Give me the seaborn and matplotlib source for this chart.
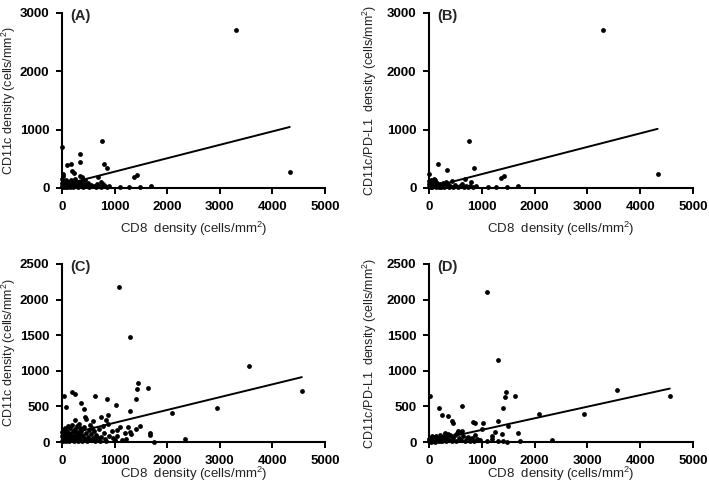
import numpy as np
import pandas as pd
import matplotlib
matplotlib.use("Agg")
import matplotlib.pyplot as plt
import seaborn as sns

# ---------------- data ----------------
# Panel A: CD8 density vs CD11c density
A_x = [0, 3300, 4330, 760, 344, 344, 800, 856, 100, 175, 225, 188, 1362, 1425, 338, 375, 20,
       894, 1112, 1270, 1475, 1690, 675, 737,
       0, 0, 0, 10, 20, 30, 40, 50, 60, 70, 80, 90, 100, 110, 120, 130, 140, 150, 160, 170, 180,
       200, 210, 220, 240, 260, 270, 290, 300, 320, 350, 370, 390, 410, 440, 470, 500, 520, 560,
       600, 640, 660, 700, 740, 780, 820, 860, 15, 250, 400]
A_y = [700, 2710, 280, 800, 590, 446, 418, 345, 390, 418, 265, 288, 192, 226, 203, 186, 200,
       40, 17, 17, 17, 28, 186, 107,
       30, 90, 150, 60, 10, 120, 40, 80, 20, 140, 50, 100, 10, 70, 30, 110, 60, 20, 90, 40, 130,
       10, 70, 50, 100, 30, 60, 110, 20, 70, 40, 100, 20, 60, 130, 30, 80, 15, 50,
       30, 10, 60, 40, 20, 70, 30, 10, 240, 160, 150]

# Panel B: CD8 density vs CD11c/PD-L1 density
B_x = [0, 3300, 4330, 756, 175, 350, 856, 1362, 1425, 100, 690, 788, 894, 1112, 1270, 1475, 1690,
       0, 0, 0, 10, 20, 30, 40, 50, 60, 70, 80, 90, 110, 120, 130, 150, 160, 180, 200, 220, 240,
       260, 280, 300, 320, 340, 360, 380, 400, 430, 460, 500, 540, 580, 620, 660, 700, 740, 780, 830]
B_y = [232, 2710, 240, 802, 418, 300, 345, 175, 198, 158, 150, 96, 30, 17, 17, 17, 28,
       20, 60, 120, 40, 90, 10, 130, 50, 20, 80, 110, 30, 60, 140, 10, 40, 90, 20, 60, 10, 40,
       80, 20, 50, 100, 30, 70, 10, 40, 120, 20, 50, 10, 30, 60, 15, 40, 10, 30, 10]

# Panel C: CD8 density vs CD11c density (second cohort)
C_x = [1090, 1302, 3560, 4560, 2950, 2090, 2330, 1448, 1429, 1403, 1631, 1296, 1485, 1669, 1681,
       1757, 1018, 847, 619, 183, 240, 32, 76, 367, 411, 436, 449, 247, 740, 872, 841, 879, 784,
       594, 531, 569, 1100, 1258, 1403, 1290, 1321, 1226, 973, 1005, 815, 657, 1037, 341, 310, 373,
       0, 0, 0, 10, 20, 25, 35, 40, 50, 55, 65, 70, 80, 90, 95, 105, 115, 120, 130, 140, 150, 160,
       170, 180, 190, 200, 210, 220, 230, 250, 260, 270, 280, 290, 300, 320, 330, 350, 360, 380,
       400, 420, 440, 460, 480, 500, 520, 540, 560, 580, 600, 620, 650, 680, 700, 720, 750, 790,
       830, 900, 950, 1050, 1150, 1200]
C_y = [2180, 1470, 1066, 718, 480, 405, 40, 830, 744, 610, 754, 430, 225, 125, 100,
       5, 518, 600, 640, 706, 680, 650, 496, 545, 470, 346, 317, 312, 355, 374, 312, 254, 226,
       288, 240, 202, 216, 206, 178, 144, 110, 48, 58, 24, 48, 72, 163, 192, 144, 96,
       20, 80, 140, 50, 110, 10, 170, 70, 30, 130, 200, 60, 10, 100, 160, 40, 220, 80, 20, 130, 60, 190,
       30, 100, 240, 50, 150, 10, 90, 180, 40, 120, 230, 70, 20, 110, 250, 50, 160, 20,
       90, 210, 40, 130, 10, 70, 170, 30, 110, 60, 150, 20, 100, 40, 180, 10, 70, 130,
       20, 90, 150, 80, 30, 120]

# Panel D: CD8 density vs CD11c/PD-L1 density (second cohort)
D_x = [1090, 1300, 3556, 4560, 2941, 2090, 2325, 1456, 1430, 1633, 1405, 1304, 1487, 1684, 1715,
       25, 190, 253, 367, 443, 449, 630, 842, 873, 1032, 1013, 1253, 1392, 557, 589, 620, 525,
       304, 367, 399, 747, 873, 905, 968, 1185,
       0, 0, 10, 20, 30, 40, 50, 60, 70, 80, 90, 100, 110, 120, 130, 140, 150, 170, 180, 200,
       210, 230, 250, 270, 290, 310, 330, 350, 380, 410, 430, 460, 490, 520, 560, 600, 640, 680,
       720, 770, 810, 850, 950, 1100, 1200, 1300, 1400, 1480]
D_y = [2100, 1150, 725, 640, 400, 390, 30, 700, 628, 640, 480, 290, 220, 125, 14,
       640, 480, 385, 360, 290, 265, 510, 275, 260, 260, 185, 145, 114, 152, 135, 155, 120,
       105, 119, 95, 71, 95, 48, 24, 84,
       10, 40, 20, 60, 5, 30, 80, 15, 45, 10, 70, 25, 50, 5, 90, 30, 60, 15, 40, 100,
       20, 50, 10, 70, 30, 120, 10, 60, 30, 80, 15, 50, 100, 20, 60, 30, 90, 15,
       50, 20, 60, 10, 30, 15, 40, 20, 10, 5]

# Linear-fit coefficients (slope, intercept)
fits = {"A": (0.230, 50), "B": (0.233, 5), "C": (0.180, 90), "D": (0.163, 7)}

panel_labels = ["(A)", "(B)", "(C)", "(D)"]
x_label = "CD8  density (cells/mm$^2$)"
y_labels = ["CD11c density (cells/mm$^2$)", "CD11c/PD-L1  density (cells/mm$^2$)",
            "CD11c density (cells/mm$^2$)", "CD11c/PD-L1  density (cells/mm$^2$)"]
x_ticks = [0, 1000, 2000, 3000, 4000, 5000]
y_ticks_top = [0, 1000, 2000, 3000]
y_ticks_bottom = [0, 500, 1000, 1500, 2000, 2500]

# ---------------- drawing ----------------
sns.set_theme(style="ticks")
plt.rcParams["font.family"] = ["Liberation Sans", "DejaVu Sans"]
plt.rcParams["mathtext.fontset"] = "custom"
plt.rcParams["mathtext.rm"] = "Liberation Sans"

fig = plt.figure(figsize=(7.09, 4.90), dpi=100)
W, H = 709, 490
boxes = [
    (62, 13, 263, 175),
    (429, 13, 264, 175),
    (62, 264, 263, 178),
    (429, 264, 264, 178),
]
ylabel_right_px = [17.5, 379.5, 17.5, 379.5]
xlabel_pad = [5, 5, -1, -1]
datasets = [(A_x, A_y), (B_x, B_y), (C_x, C_y), (D_x, D_y)]
keys = ["A", "B", "C", "D"]

for i, ((l, t, w, h), (xs, ys), key) in enumerate(zip(boxes, datasets, keys)):
    ax = fig.add_axes([l / W, 1 - (t + h) / H, w / W, h / H])
    df = pd.DataFrame({"x": xs, "y": ys})
    sns.scatterplot(data=df, x="x", y="y", color="black", s=12, linewidth=0,
                    ax=ax, clip_on=False, zorder=3)
    slope, intercept = fits[key]
    xr = np.array([df["x"].min(), df["x"].max()])
    line_df = pd.DataFrame({"x": xr, "y": intercept + slope * xr})
    sns.lineplot(data=line_df, x="x", y="y", color="black", linewidth=1.4, ax=ax,
                 zorder=2)

    ymax = 3000 if i < 2 else 2500
    ax.set_xlim(0, 5000)
    ax.set_ylim(0, ymax)
    ax.set_xticks(x_ticks)
    ax.set_yticks(y_ticks_top if i < 2 else y_ticks_bottom)
    ax.tick_params(axis="both", direction="out", length=4.5, width=1.4, pad=4.5,
                   labelsize=9.5, colors="black")
    for lab in ax.get_xticklabels() + ax.get_yticklabels():
        lab.set_fontweight("bold")
    for s in ["left", "bottom"]:
        ax.spines[s].set_linewidth(1.5)
        ax.spines[s].set_color("black")
    sns.despine(ax=ax)
    ax.set_xlabel(x_label, fontsize=9.5, color="#222222", labelpad=xlabel_pad[i])
    ax.set_ylabel(y_labels[i], fontsize=9, color="#222222")
    ax.yaxis.set_label_coords((ylabel_right_px[i] - l) / w, 0.5)
    ax.text(0.03, 0.985, panel_labels[i], transform=ax.transAxes, fontsize=10.5,
            fontweight="bold", va="center", ha="left")

fig.savefig("out.png", dpi=100)
